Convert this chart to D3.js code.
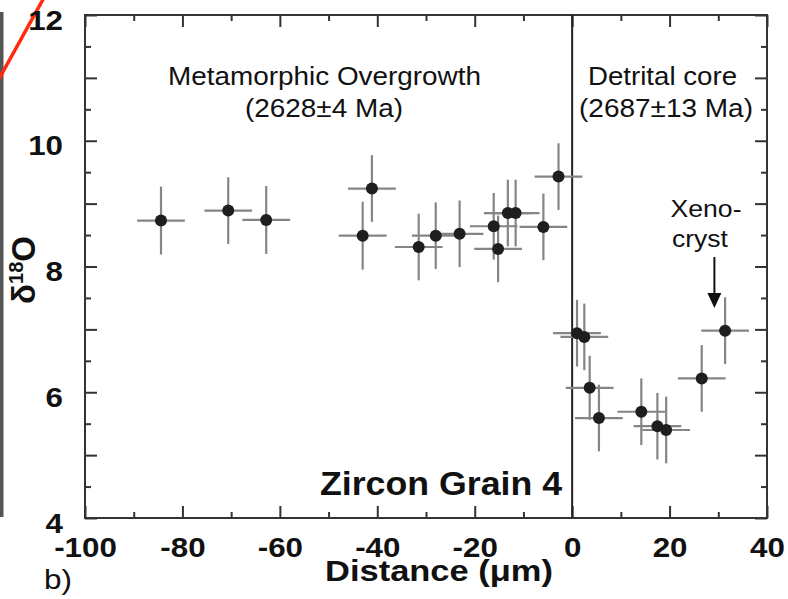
<!DOCTYPE html>
<html><head><meta charset="utf-8">
<script src="https://cdn.jsdelivr.net/npm/d3@7/dist/d3.min.js"></script>
<style>
html,body{margin:0;padding:0;background:#fff;}
svg{display:block;}
text{font-family:"Liberation Sans",Arial,Helvetica,sans-serif;fill:#111;}
</style></head>
<body>
<svg id="chart" width="788" height="599"></svg>
<script>
// ---- data ----
const distance = [-84.4, -70.6, -62.8, -41.1, -43.0, -31.5, -28.0, -23.1, -16.1, -15.2, -13.2, -11.6, -5.9, -2.8,
                  1.0, 2.5, 3.6, 5.5, 14.2, 17.5, 19.3, 26.6, 31.4];
const d18O     = [8.73, 8.89, 8.74, 9.24, 8.49, 8.31, 8.49, 8.52, 8.64, 8.28, 8.85, 8.85, 8.63, 9.43,
                  6.94, 6.88, 6.07, 5.59, 5.69, 5.46, 5.40, 6.22, 6.98];
const distErr  = [4.9, 4.9, 4.9, 4.9, 4.9, 4.9, 4.9, 4.9, 4.9, 4.9, 4.9, 4.9, 4.9, 4.9,
                  4.9, 4.9, 4.9, 4.9, 4.9, 4.9, 4.9, 4.9, 4.9];
const d18OErr  = [0.54, 0.53, 0.54, 0.53, 0.54, 0.53, 0.53, 0.53, 0.53, 0.53, 0.53, 0.53, 0.53, 0.53,
                  0.53, 0.53, 0.51, 0.53, 0.53, 0.53, 0.53, 0.53, 0.53];
const xTickLabels = [-100, -80, -60, -40, -20, 0, 20, 40];
const xMinorTicks = [-90, -70, -50, -30, -10, 10, 30];
const yTickLabels = [4, 6, 8, 10, 12];
const yMajorTicks = [5, 7, 9, 11];
const yMinorTicks = [4.5, 5.5, 6.5, 7.5, 8.5, 9.5, 10.5, 11.5];
const xDomain = [-100, 40];
const yDomain = [4, 12];

// ---- layout ----
const L = 85, R = 767, T = 15, B = 518;
const svg = d3.select("#chart");
const x = d3.scaleLinear().domain(xDomain).range([L, R]);
const y = d3.scaleLinear().domain(yDomain).range([B, T]);

// fragments of neighbouring panel
svg.append("rect").attr("x", 0).attr("y", 12).attr("width", 3.5).attr("height", 505).attr("fill", "#555");
svg.append("line").attr("x1", -6).attr("y1", 88).attr("x2", 46).attr("y2", -6)
  .attr("stroke", "#ff2a10").attr("stroke-width", 3.5);

const axColor = "#333";
function styleAxis(g){
  g.select(".domain").remove();
  g.selectAll(".tick line").attr("stroke", axColor).attr("stroke-width", 2);
}
const big = 12, small = 6;
const tickFont = 28, stretch = 1.12;
// bottom axis with labels
const gB = svg.append("g").attr("transform", `translate(0,${B})`)
  .call(d3.axisBottom(x).tickValues(xTickLabels).tickSizeInner(-big).tickSizeOuter(0).tickPadding(19).tickFormat(d3.format("d")));
styleAxis(gB);
gB.selectAll(".tick text").attr("font-size", tickFont).attr("font-weight", "bold").attr("fill", "#111")
  .attr("font-family", '"Liberation Sans",Arial,sans-serif')
  .attr("transform", `scale(${stretch},1)`)
  .text(d => d < 0 ? "-" + Math.abs(d) : d);
const gBm = svg.append("g").attr("transform", `translate(0,${B})`)
  .call(d3.axisBottom(x).tickValues(xMinorTicks).tickSizeInner(-small).tickSizeOuter(0).tickFormat(""));
styleAxis(gBm);
// top axis
const gT = svg.append("g").attr("transform", `translate(0,${T})`)
  .call(d3.axisTop(x).tickValues(xTickLabels).tickSizeInner(-big).tickSizeOuter(0).tickFormat(""));
styleAxis(gT);
const gTm = svg.append("g").attr("transform", `translate(0,${T})`)
  .call(d3.axisTop(x).tickValues(xMinorTicks).tickSizeInner(-small).tickSizeOuter(0).tickFormat(""));
styleAxis(gTm);
// left axis with labels
const gL = svg.append("g").attr("transform", `translate(${L},0)`)
  .call(d3.axisLeft(y).tickValues(yTickLabels).tickSizeInner(-big).tickSizeOuter(0).tickPadding(22).tickFormat(d3.format("d")));
styleAxis(gL);
gL.selectAll(".tick text").attr("font-size", tickFont).attr("font-weight", "bold").attr("fill", "#111")
  .attr("font-family", '"Liberation Sans",Arial,sans-serif').attr("dy", "0.5em")
  .attr("x", -22 / stretch).attr("transform", `scale(${stretch},1)`);
[[yMajorTicks, big], [yMinorTicks, small]].forEach(([vals, s]) => {
  const g = svg.append("g").attr("transform", `translate(${L},0)`)
    .call(d3.axisLeft(y).tickValues(vals).tickSizeInner(-s).tickSizeOuter(0).tickFormat(""));
  styleAxis(g);
});
// right axis
[[yTickLabels.concat(yMajorTicks), big], [yMinorTicks, small]].forEach(([vals, s]) => {
  const g = svg.append("g").attr("transform", `translate(${R},0)`)
    .call(d3.axisRight(y).tickValues(vals).tickSizeInner(-s).tickSizeOuter(0).tickFormat(""));
  styleAxis(g);
});

// frame
svg.append("rect").attr("x", L).attr("y", T).attr("width", R - L).attr("height", B - T)
  .attr("fill", "none").attr("stroke", axColor).attr("stroke-width", 2);
// boundary line at 0
svg.append("line").attr("x1", x(0)).attr("x2", x(0)).attr("y1", T).attr("y2", B)
  .attr("stroke", "#222").attr("stroke-width", 2);

// data
const pts = distance.map((d, i) => ({x: d, y: d18O[i], ex: distErr[i], ey: d18OErr[i]}));
const eb = svg.append("g").attr("stroke", "#858585").attr("stroke-width", 2.2);
eb.selectAll("line.h").data(pts).join("line").attr("class", "h")
  .attr("x1", d => x(d.x - d.ex)).attr("x2", d => x(d.x + d.ex))
  .attr("y1", d => y(d.y)).attr("y2", d => y(d.y));
eb.selectAll("line.v").data(pts).join("line").attr("class", "v")
  .attr("x1", d => x(d.x)).attr("x2", d => x(d.x))
  .attr("y1", d => y(d.y - d.ey)).attr("y2", d => y(d.y + d.ey));
svg.append("g").selectAll("circle").data(pts).join("circle")
  .attr("cx", d => x(d.x)).attr("cy", d => y(d.y)).attr("r", 6).attr("fill", "#1e1e1e");

// annotations
function txt(str, px, py, size, weight, anchor, len){
  const t = svg.append("text").attr("x", px).attr("y", py).attr("font-size", size)
    .attr("font-weight", weight || "normal").attr("text-anchor", anchor || "middle").text(str);
  if (len) t.attr("textLength", len).attr("lengthAdjust", "spacingAndGlyphs");
  return t;
}
txt("Metamorphic Overgrowth", 324.5, 85, 26, "normal", "middle", 313);
txt("(2628\u00B14 Ma)", 324, 117, 26, "normal", "middle", 158);
txt("Detrital core", 662.5, 85, 26, "normal", "middle", 149);
txt("(2687\u00B113 Ma)", 666, 117, 26, "normal", "middle", 174);
txt("Xeno-", 706, 217, 24, "normal", "middle", 71);
txt("cryst", 700, 247, 24, "normal", "middle", 56);
txt("Zircon Grain 4", 441, 495, 34, "bold", "middle", 242);
txt("Distance (\u03BCm)", 439, 581, 30, "bold", "middle", 228);
txt("b)", 44, 589, 28, "normal", "start", 28);

// arrow to xenocryst
const ax = x(29.2);
svg.append("line").attr("x1", ax).attr("x2", ax).attr("y1", y(8.15)).attr("y2", y(7.55))
  .attr("stroke", "#111").attr("stroke-width", 2);
svg.append("path").attr("d", `M${ax - 7},${y(7.58)} L${ax + 7},${y(7.58)} L${ax},${y(7.34)} Z`).attr("fill", "#111");

// y-axis label
const yl = svg.append("text").attr("transform", "translate(35,270) rotate(-90)")
  .attr("text-anchor", "middle").attr("font-weight", "bold").attr("font-size", 33);
yl.append("tspan").text("\u03B4");
yl.append("tspan").attr("font-size", 20).attr("dy", -12).text("18");
yl.append("tspan").attr("dy", 12).text("O");
</script>
</body></html>
